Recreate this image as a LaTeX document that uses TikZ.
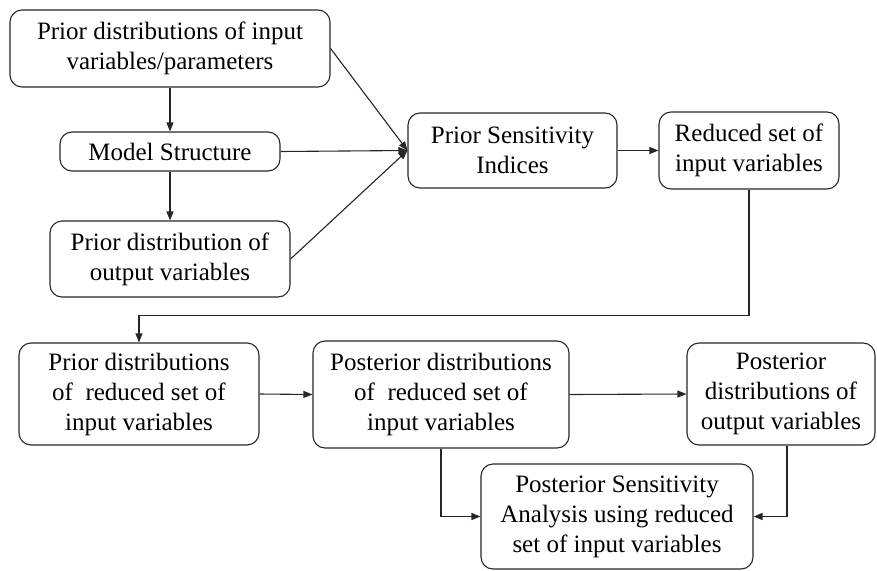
\documentclass[tikz,border=0pt]{standalone}
\usepackage{fontspec}
\setmainfont{Liberation Serif}
\newfontfamily\boxfont{Liberation Serif}
\usetikzlibrary{arrows.meta}
\begin{document}
\begin{tikzpicture}[x=1pt,y=-1pt,
  box/.style={draw=black!85, rounded corners=12pt, line width=1.1pt, align=center,
    inner sep=0pt, font=\boxfont\fontsize{25}{30}\selectfont},
  flow/.style={draw=black!85, line width=1.1pt, -{Triangle[length=9pt,width=7pt]}}]
\useasboundingbox (0,0) rectangle (877,570);

% upper part: prior analysis
\node[box, minimum width=320pt, minimum height=77pt] (pin) at (170,48.5)
  {Prior distributions of input\\variables/parameters};
\node[box, minimum width=220pt, minimum height=39pt] (ms) at (170,151.5)
  {Model Structure};
\node[box, minimum width=240pt, minimum height=76pt] (pout) at (170,259)
  {Prior distribution of\\output variables};
\node[box, minimum width=209pt, minimum height=75pt] (psi) at (512.5,150.5)
  {Prior Sensitivity\\Indices};
\node[box, minimum width=180pt, minimum height=77pt] (red) at (749,150.5)
  {Reduced set of\\input variables};

% lower part: posterior analysis
\node[box, minimum width=240pt, minimum height=102pt] (prd) at (139,394)
  {Prior distributions\\of\ \ reduced set of\\input variables};
\node[box, minimum width=256pt, minimum height=107pt] (pod) at (441,394.5)
  {Posterior distributions\\of\ \ reduced set of\\input variables};
\node[box, minimum width=188pt, minimum height=102pt] (poo) at (781,394)
  {Posterior\\distributions of\\output variables};
\node[box, minimum width=272pt, minimum height=105pt] (psa) at (617,516.5)
  {Posterior Sensitivity\\Analysis using reduced\\set of input variables};

% connectors
\draw[flow] (pin.south) -- (ms.north);
\draw[flow] (ms.south) -- (pout.north);
\draw[flow] (pin.east) -- (psi.west);
\draw[flow] (ms.east) -- (psi.west);
\draw[flow] (pout.east) -- (psi.west);
\draw[flow] (psi.east) -- (red.west);
\draw[flow] (red.south) -- ++(0,126) -| (prd.north);
\draw[flow] (prd.east) -- (pod.west);
\draw[flow] (pod.east) -- (poo.west);
\draw[flow] (pod.south) |- (psa.west);
\draw[flow] ([xshift=6pt]poo.south) |- (psa.east);
\end{tikzpicture}
\end{document}
